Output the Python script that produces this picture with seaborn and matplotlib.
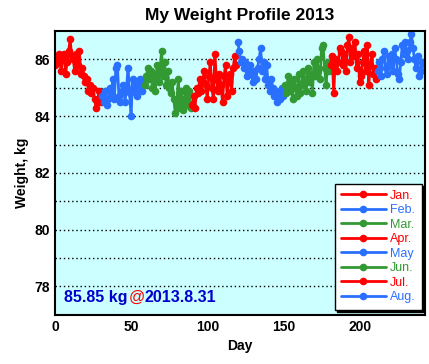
import numpy as np
import pandas as pd
import matplotlib
matplotlib.use("Agg")
import matplotlib.pyplot as plt
import seaborn as sns
from matplotlib.lines import Line2D
from matplotlib.transforms import offset_copy

months = ["Jan.", "Feb.", "Mar.", "Apr.", "May", "Jun.", "Jul.", "Aug."]
month_colors = ["#ff0000", "#2a70ff", "#339933", "#ff0000", "#2a70ff", "#339933", "#ff0000", "#2a70ff"]

jan = [85.8, 86.1, 85.9, 86.2, 85.6, 86.0, 86.2, 85.5, 85.9, 86.3, 86.7, 86.1, 86.0, 85.6, 86.2, 85.8,
       86.3, 85.5, 85.7, 85.4, 85.2, 85.3, 84.9, 85.1, 84.8, 85.0, 84.6, 84.3, 84.5, 84.9, 84.5]
feb = [84.7, 84.5, 84.9, 84.4, 84.6, 85.0, 84.8, 85.3, 84.6, 85.7, 85.8, 84.7, 84.5, 84.9, 85.1, 84.5,
       85.0, 85.7, 84.8, 84.0, 85.3, 84.9, 85.2, 84.7, 85.0, 85.3, 84.9, 85.2]
mar = [85.1, 85.4, 85.7, 85.3, 85.6, 85.0, 85.5, 84.9, 85.8, 85.2, 85.6, 86.3, 85.4, 85.9, 85.1, 85.6,
       85.0, 84.8, 85.2, 84.6, 84.1, 84.5, 85.3, 84.3, 84.9, 84.2, 84.6, 85.0, 84.4, 84.9, 84.3]
apr = [84.4, 84.7, 84.3, 85.0, 84.8, 85.3, 84.9, 85.2, 85.6, 85.1, 84.6, 85.4, 85.9, 85.0, 84.6, 86.2,
       85.3, 84.9, 85.5, 85.1, 84.5, 85.4, 85.8, 84.7, 85.2, 85.5, 84.9, 85.7, 86.1, 85.8]
may = [86.6, 86.3, 85.9, 86.0, 85.7, 85.9, 85.4, 85.6, 85.8, 85.5, 85.2, 85.6, 85.3, 85.7, 86.0, 86.4,
       85.6, 85.9, 85.3, 85.8, 85.1, 84.9, 85.3, 85.0, 84.7, 84.9, 84.5, 84.8, 84.6, 85.0, 84.7]
jun = [85.1, 84.8, 85.4, 84.9, 85.2, 84.6, 85.3, 85.0, 84.7, 85.5, 84.8, 85.1, 85.6, 85.3, 84.9, 85.7,
       85.2, 85.5, 84.8, 85.9, 85.4, 86.0, 85.6, 85.3, 86.4, 86.5, 85.7, 85.1, 85.9, 85.6]
jul = [85.8, 86.1, 84.8, 86.0, 85.6, 85.9, 86.4, 86.3, 85.8, 86.2, 85.6, 86.5, 86.8, 85.9, 86.4, 86.1,
       86.6, 85.7, 86.2, 85.2, 85.4, 85.9, 86.3, 85.6, 86.5, 85.1, 85.8, 86.2, 85.5, 85.7, 85.3]
aug = [85.6, 85.9, 85.4, 86.0, 86.3, 85.7, 85.5, 86.1, 85.8, 86.2, 85.6, 86.4, 86.0, 85.5, 85.3, 85.9,
       86.5, 86.2, 86.6, 86.3, 86.0, 86.6, 86.9, 86.4, 86.0, 85.7, 86.1, 85.4, 85.6, 85.9, 85.85]

series = [jan, feb, mar, apr, may, jun, jul, aug]
rows = []
day = 0
for m, vals in zip(months, series):
    for v in vals:
        rows.append({"day": day, "weight": v, "month": m})
        day += 1
df = pd.DataFrame(rows)

sns.set_style("white")
plt.rcParams["font.family"] = ["Liberation Sans", "DejaVu Sans"]
plt.rcParams["text.color"] = "black"
plt.rcParams["axes.labelcolor"] = "black"
plt.rcParams["xtick.color"] = "black"
plt.rcParams["ytick.color"] = "black"

fig = plt.figure(figsize=(4.29, 3.64), dpi=100)
ax = fig.add_axes([0.128, 0.135, 0.863, 0.78])
ax.set_facecolor("#ccffff")

sns.lineplot(data=df, x="day", y="weight", hue="month", hue_order=months,
             palette=dict(zip(months, month_colors)), marker="o", markersize=5.5,
             markeredgewidth=0, linewidth=2, estimator=None, sort=False, ax=ax,
             legend=False)

for yv in range(78, 87):
    ax.axhline(yv, color="black", linestyle=(0, (1, 2)), linewidth=1, zorder=0.5)

ax.set_xlim(0, 243)
ax.set_ylim(77, 87)
ax.set_xticks([0, 50, 100, 150, 200])
ax.set_yticks([78, 80, 82, 84, 86])
ax.tick_params(direction="in", length=7, width=1, labelsize=10, colors="black")
for lab in ax.get_xticklabels() + ax.get_yticklabels():
    lab.set_fontweight("bold")
for s in ax.spines.values():
    s.set_linewidth(1.5)
    s.set_color("black")

ax.set_xlabel("Day", fontsize=10, fontweight="bold", color="black")
ax.set_ylabel("Weight, kg", fontsize=10, fontweight="bold", color="black")
ax.set_title("My Weight Profile 2013", fontsize=12.5, fontweight="bold", pad=8, color="black")

handles = [Line2D([0], [0], color=c, marker="o", markersize=5.5, markeredgewidth=0, linewidth=2)
           for c in month_colors]
leg = ax.legend(handles, months, loc="lower right", fontsize=9, frameon=True, fancybox=False,
                shadow={"color": "black", "alpha": 1}, edgecolor="black", framealpha=1,
                labelcolor=month_colors, handlelength=3.6, handletextpad=0.3,
                labelspacing=0.2, borderpad=0.5, bbox_to_anchor=(0.997, 0.01),
                borderaxespad=0.2)
leg.get_frame().set_linewidth(1)

fig.canvas.draw()
renderer = fig.canvas.get_renderer()
t = ax.text(0.025, 0.035, "85.85 kg", transform=ax.transAxes, color="#0000cc",
            fontsize=11.5, fontweight="bold", va="bottom", ha="left")
w = t.get_window_extent(renderer).width
t2 = ax.text(0.025, 0.035, "@", color="#ff0000", fontsize=11.5, va="bottom", ha="left",
             transform=offset_copy(ax.transAxes, fig=fig, x=w + 1, y=0, units="dots"))
w2 = t2.get_window_extent(renderer).width
ax.text(0.025, 0.035, "2013.8.31", color="#0000cc", fontsize=11.5, fontweight="bold",
        va="bottom", ha="left",
        transform=offset_copy(ax.transAxes, fig=fig, x=w + w2 + 1, y=0, units="dots"))

fig.savefig("out.png", dpi=100)
